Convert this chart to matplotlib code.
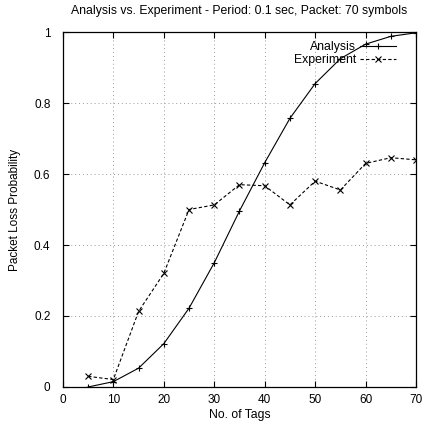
import matplotlib
matplotlib.use("Agg")
import matplotlib.pyplot as plt

# ----------------------------
# DATA
# ----------------------------
tags = [5, 10, 15, 20, 25, 30, 35, 40, 45, 50, 55, 60, 65, 70]
analysis = [0.0, 0.015, 0.053, 0.122, 0.222, 0.350, 0.496, 0.632, 0.757, 0.855, 0.925, 0.966, 0.988, 0.998]
experiment = [0.030, 0.021, 0.213, 0.320, 0.500, 0.513, 0.570, 0.567, 0.513, 0.580, 0.555, 0.630, 0.646, 0.640]

xticks = [0, 10, 20, 30, 40, 50, 60, 70]
yticks = [0, 0.2, 0.4, 0.6, 0.8, 1]
ytick_labels = ["0", "0.2", "0.4", "0.6", "0.8", "1"]

title = "Analysis vs. Experiment - Period: 0.1 sec, Packet: 70 symbols"

# ----------------------------
# PLOT
# ----------------------------
plt.rcParams["font.family"] = ["Liberation Sans", "DejaVu Sans"]

fig = plt.figure(figsize=(4.25, 4.22), dpi=100)
ax = fig.add_axes([0.148, 0.083, 0.831, 0.841])

ax.plot(tags, analysis, color="black", lw=0.8, marker="+", ms=5, mew=0.8,
        label="Analysis")
ax.plot(tags, experiment, color="black", lw=0.8, ls=(0, (3, 2)), marker="x",
        ms=4.5, mew=0.8, label="Experiment")

ax.set_xlim(0, 70)
ax.set_ylim(0, 1)
ax.set_xticks(xticks)
ax.set_yticks(yticks)
ax.set_yticklabels(ytick_labels)
ax.grid(True, color="#999999", ls=(0, (1, 3)), lw=0.7)
ax.tick_params(direction="in", top=True, right=True, labelsize=8.5, length=4)
ax.tick_params(axis="y", pad=9)
ax.tick_params(axis="x", pad=5)
for s in ax.spines.values():
    s.set_linewidth(0.9)

ax.set_xlabel("No. of Tags", fontsize=8.8, labelpad=2)
ax.set_ylabel("Packet Loss Probability", fontsize=8.5, labelpad=9)
ax.set_title(title, fontsize=8.8, pad=13)

ax.legend(loc="upper right", frameon=False, markerfirst=False, fontsize=8.8,
          handlelength=3, handletextpad=0.3, borderaxespad=0.2,
          labelspacing=0.05, bbox_to_anchor=(0.965, 0.995))

fig.savefig("out.png", dpi=100)
